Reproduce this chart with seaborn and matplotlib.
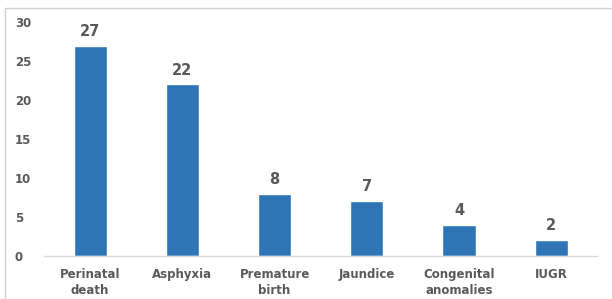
import seaborn as sns
import matplotlib.pyplot as plt
import pandas as pd
from matplotlib.patches import Rectangle

# chart data
categories = ["Perinatal\ndeath", "Asphyxia", "Premature\nbirth", "Jaundice", "Congenital\nanomalies", "IUGR"]
counts = [27, 22, 8, 7, 4, 2]
y_ticks = [0, 5, 10, 15, 20, 25, 30]

df = pd.DataFrame({"category": categories, "count": counts})

sns.set_theme(style="white")
plt.rcParams["font.family"] = ["DejaVu Sans"]

text_color = "#595959"
bar_color = "#2E75B6"

fig = plt.figure(figsize=(6.12, 2.99), dpi=100)
ax = fig.add_axes([0.072, 0.144, 0.904, 0.782])

sns.barplot(data=df, x="category", y="count", color=bar_color, width=0.36,
            saturation=1, ax=ax)

# value labels above bars
for container in ax.containers:
    ax.bar_label(container, padding=5, fontsize=10.5, fontweight="bold", color=text_color)

ax.set_ylim(0, 30)
ax.set_yticks(y_ticks)
ax.set_xlim(-0.5, len(categories) - 0.5)
ax.set_xlabel("")
ax.set_ylabel("")

for side in ["top", "right", "left"]:
    ax.spines[side].set_visible(False)
ax.spines["bottom"].set_color("#d9d9d9")
ax.spines["bottom"].set_linewidth(1)

ax.tick_params(axis="both", length=0, labelsize=8.5, labelcolor=text_color)
ax.tick_params(axis="x", pad=9)
ax.tick_params(axis="y", pad=21)
for lbl in ax.get_xticklabels():
    lbl.set_fontweight("bold")
    lbl.set_linespacing(1.3)
for lbl in ax.get_yticklabels():
    lbl.set_fontweight("bold")
    lbl.set_horizontalalignment("left")

# light frame around the chart area
fig.patches.append(Rectangle((5 / 612, -0.01), 1.0, 1 - 8 / 299 + 0.01, transform=fig.transFigure,
                             fill=False, edgecolor="#d0d0d0", linewidth=1))

fig.savefig("out.png", dpi=100)
